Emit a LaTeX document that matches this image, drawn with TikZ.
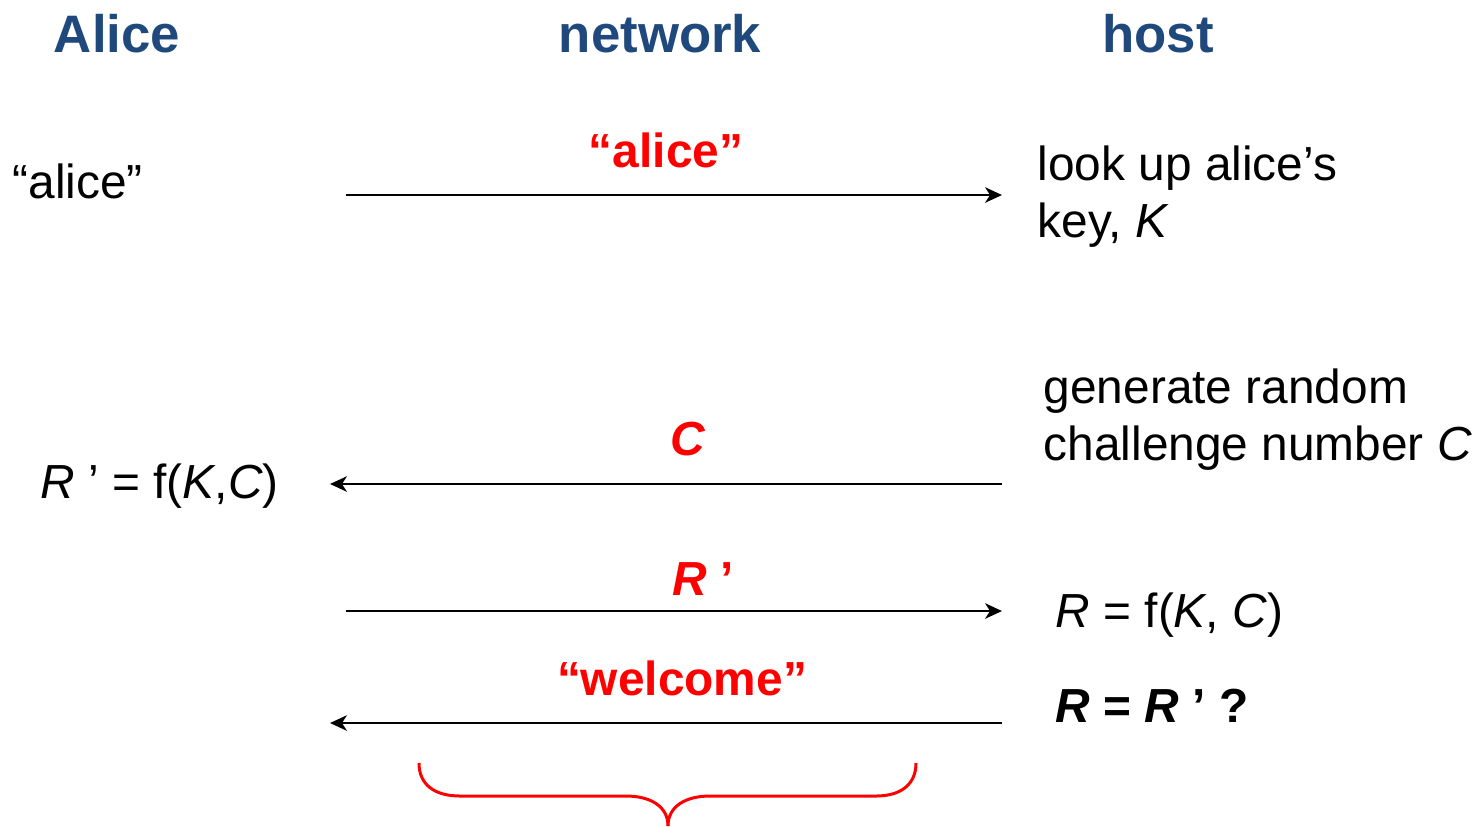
\documentclass[tikz,border=0pt]{standalone}
\usepackage{fontspec}
\setmainfont{Liberation Sans}
\usetikzlibrary{arrows.meta}
\definecolor{headblue}{RGB}{31,73,125}

\begin{document}
\begin{tikzpicture}
  [x=0.01cm,y=-0.01cm,
   every node/.style={inner sep=0pt,font=\fontsize{13.6}{16}\selectfont},
   head/.style={anchor=base,text=headblue,font=\fontsize{15}{18}\selectfont\bfseries},
   msg/.style={anchor=base,text=red,font=\fontsize{13.6}{16}\selectfont\bfseries},
   note/.style={anchor=base west,align=left},
   flow/.style={line width=0.6pt,-{Stealth[length=4.8pt,width=4.4pt,inset=1.4pt]}}]
  \useasboundingbox (0,0) rectangle (1479,826);

  % lanes
  \node[head] (alice) at (117,52) {Alice};
  \node[head] (net) at (660,52) {network};
  \node[head] (host) at (1158,52) {host};

  % what each side does
  \node[note] (login) at (12,198) {“alice”};
  \node[note] (lookup) at (1037,237) {look up alice’s\\key, \textit{K}};
  \node[note] (gen) at (1043,460) {generate random\\challenge number \textit{C}};
  \node[note] (resp) at (40,498) {\textit{R} ’ = f(\textit{K},\textit{C})};
  \node[note] (calc) at (1055,627) {\textit{R} = f(\textit{K}, \textit{C})};
  \node[note,font=\fontsize{13.6}{16}\selectfont\bfseries] (check) at (1055,722) {\textit{R} = \textit{R} ’ ?};

  % messages
  \coordinate (l1) at (346,195);
  \coordinate (r1) at (1002,195);
  \coordinate (r2) at (1002,484);
  \coordinate (l2) at (330,484);
  \coordinate (l3) at (346,611);
  \coordinate (r3) at (1002,611);
  \coordinate (r4) at (1002,723);
  \coordinate (l4) at (330,723);

  \foreach \from/\to in {l1/r1,r2/l2,l3/r3,r4/l4}
    \draw[flow] (\from) -- (\to);

  \node[msg] (m1) at (666,167) {“alice”};
  \node[msg] (m2) at (688,455) {\textit{C}};
  \node[msg] (m3) at (703,595) {\textit{R} ’};
  \node[msg] (m4) at (682,695) {“welcome”};

  % brace under the network
  \draw[red,line width=0.85pt]
    (419,763) .. controls (419,785) and (435,796) .. (460,796) -- (626,796)
    .. controls (650,796) and (668,806) .. (668,826);
  \draw[red,line width=0.85pt]
    (916,763) .. controls (916,785) and (900,796) .. (876,796) -- (710,796)
    .. controls (686,796) and (668,806) .. (668,826);
\end{tikzpicture}
\end{document}
